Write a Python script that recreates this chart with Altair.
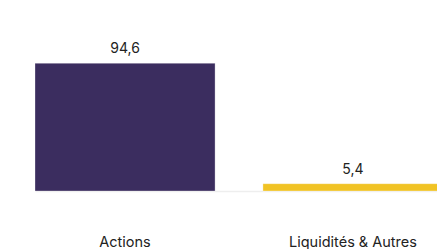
import altair as alt
import pandas as pd

categories = ["Actions", "Liquidités & Autres"]
values = [94.6, 5.4]
value_labels = ["94,6", "5,4"]
colors = ["#3b2d5f", "#f1c324"]

df = pd.DataFrame({"cat": categories, "val": values, "lab": value_labels})

x = alt.X(
    "cat:N",
    sort=categories,
    title=None,
    scale=alt.Scale(range=[14, 422], paddingInner=0.21, paddingOuter=0),
    axis=alt.Axis(
        labelAngle=0,
        labelPadding=44,
        labelFont="Inter",
        labelFontSize=14.5,
        labelColor="#222222",
        labelBaseline="top",
        ticks=False,
        domainColor="#eeeeee",
        domainWidth=1.5,
        labelLimit=300,
    ),
)
y = alt.Y("val:Q", scale=alt.Scale(domain=[0, 100]), axis=None)

bars = alt.Chart(df).mark_bar(stroke="#ffffff", strokeWidth=0.6, strokeOpacity=0.5).encode(
    x=x,
    y=y,
    color=alt.Color("cat:N", scale=alt.Scale(domain=categories, range=colors), legend=None),
)
text = alt.Chart(df).mark_text(
    baseline="alphabetic", dy=-10, font="Inter", fontSize=14, color="#222222"
).encode(x=alt.X("cat:N", sort=categories), y="val:Q", text="lab:N")

chart = (
    alt.layer(bars, text)
    .properties(
        width=416,
        height=135,
        autosize=alt.AutoSizeParams(type="none"),
        padding={"left": 13, "top": 48, "right": 0, "bottom": 58},
    )
    .configure_view(stroke=None)
)

chart.save("out.html", embed_options={"renderer": "svg", "actions": False})
